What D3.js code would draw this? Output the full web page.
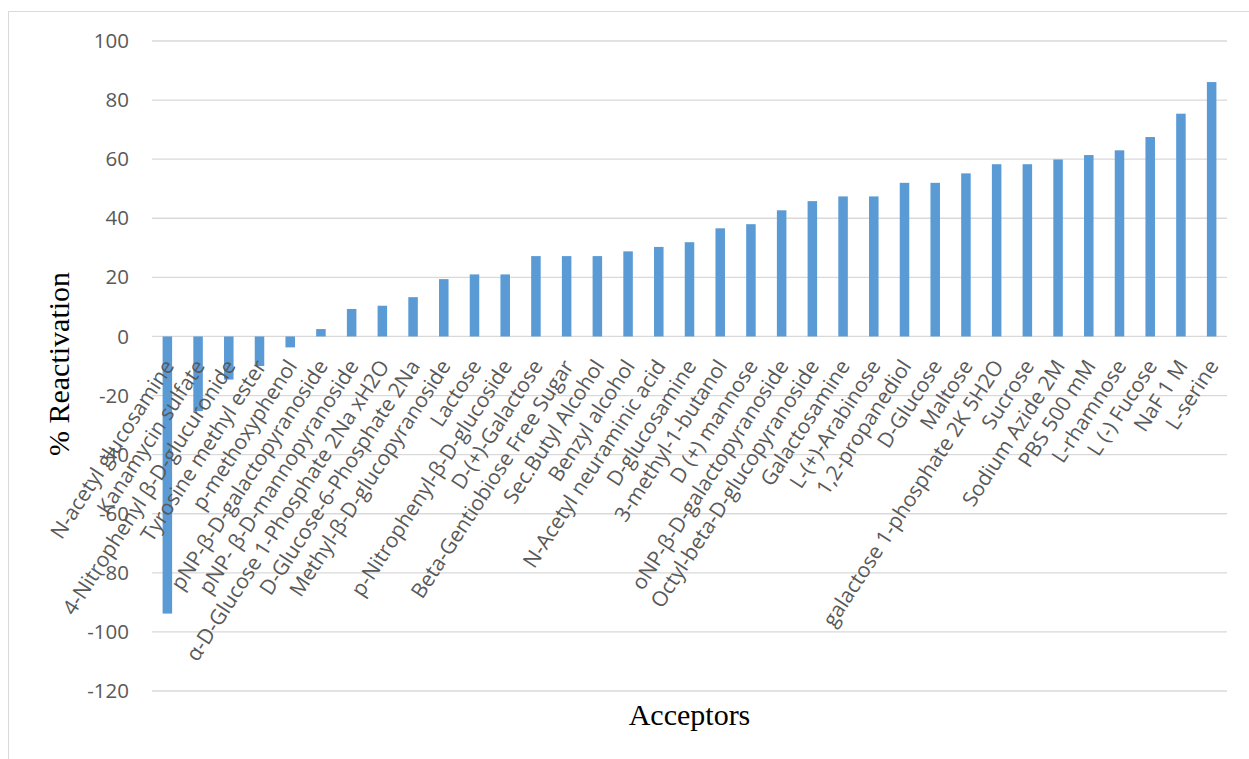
<!DOCTYPE html>
<html>
<head>
<meta charset="utf-8">
<script src="https://cdn.jsdelivr.net/npm/d3@7"></script>
<style>
  html, body { margin: 0; padding: 0; background: #ffffff; }
  svg { display: block; }
</style>
</head>
<body>
<div id="chart"></div>
<script>
// Acceptor compounds, in plotted order
const categories = [
  "N-acetyl glucosamine",
  "Kanamycin sulfate",
  "4-Nitrophenyl β-D-glucuronide",
  "Tyrosine methyl ester",
  "p-methoxyphenol",
  "pNP-β-D-galactopyranoside",
  "pNP- β-D-mannopyranoside",
  "α-D-Glucose 1-Phosphate 2Na xH2O",
  "D-Glucose-6-Phosphate 2Na",
  "Methyl-β-D-glucopyranoside",
  "Lactose",
  "p-Nitrophenyl-β-D-glucoside",
  "D-(+)-Galactose",
  "Beta-Gentiobiose Free Sugar",
  "Sec.Butyl Alcohol",
  "Benzyl alcohol",
  "N-Acetyl neuraminic acid",
  "D-glucosamine",
  "3-methyl-1-butanol",
  "D (+) mannose",
  "oNP-β-D-galactopyranoside",
  "Octyl-beta-D-glucopyranoside",
  "Galactosamine",
  "L-(+)-Arabinose",
  "1,2-propanediol",
  "D-Glucose",
  "Maltose",
  "galactose 1-phosphate 2K 5H2O",
  "Sucrose",
  "Sodium Azide 2M",
  "PBS 500 mM",
  "L-rhamnose",
  "L (-) Fucose",
  "NaF 1 M",
  "L-serine"
];

// % reactivation for each acceptor
const reactivation = [
  -93.8, -25.3, -14.6, -10.0, -3.7, 2.5, 9.3, 10.4, 13.3, 19.4,
  21.0, 21.0, 27.2, 27.2, 27.2, 28.8, 30.3, 31.9, 36.6, 38.0,
  42.7, 45.8, 47.4, 47.4, 52.0, 52.0, 55.2, 58.3, 58.3, 59.9,
  61.4, 63.0, 67.5, 75.4, 86.1
];

// Value-axis ticks
const yTicks = [100, 80, 60, 40, 20, 0, -20, -40, -60, -80, -100, -120];

const yTitle = "% Reactivation";
const xTitle = "Acceptors";

const W = 1249, H = 759;
const plot = { left: 152, right: 1227, top: 41, bottom: 691 };

const svg = d3.select("#chart").append("svg")
  .attr("width", W).attr("height", H);

// chart-area frame (only top and left edges fall inside the page)
svg.append("rect")
  .attr("x", 8.5).attr("y", 11.5)
  .attr("width", W + 20).attr("height", H + 20)
  .attr("fill", "none")
  .attr("stroke", "#d9d9d9")
  .attr("stroke-width", 1);

const x = d3.scaleBand()
  .domain(categories)
  .range([plot.left, plot.right])
  .paddingInner(0.69)
  .paddingOuter(0.345);

const y = d3.scaleLinear()
  .domain([-120, 100])
  .range([plot.bottom, plot.top]);

// horizontal gridlines
svg.append("g")
  .selectAll("line")
  .data(yTicks)
  .join("line")
  .attr("x1", plot.left).attr("x2", plot.right)
  .attr("y1", d => y(d)).attr("y2", d => y(d))
  .attr("stroke", "#d9d9d9")
  .attr("stroke-width", 1.3);

// value axis labels (plain hyphen for negatives)
const yAxis = svg.append("g")
  .attr("transform", `translate(${plot.left},0)`)
  .call(d3.axisLeft(y).tickValues(yTicks).tickSize(0).tickPadding(23)
    .tickFormat(d => String(d)));
yAxis.select(".domain").remove();
yAxis.selectAll("text")
  .attr("font-family", "'Open Sans', sans-serif")
  .attr("font-size", 20.5)
  .attr("fill", "#595959");

// bars
svg.append("g")
  .selectAll("rect")
  .data(categories.map((c, i) => ({ c, v: reactivation[i] })))
  .join("rect")
  .attr("x", d => x(d.c))
  .attr("width", x.bandwidth())
  .attr("y", d => y(Math.max(0, d.v)))
  .attr("height", d => Math.abs(y(d.v) - y(0)))
  .attr("fill", "#5b9bd5");

// category labels, rotated and hung from the zero line
const angle = -57;
svg.append("g")
  .selectAll("text")
  .data(categories)
  .join("text")
  .attr("transform", d => `translate(${x(d) + x.bandwidth() / 2 + 1.5},${y(0) + 25.5}) rotate(${angle})`)
  .attr("text-anchor", "end")
  .attr("dy", "0.35em")
  .attr("font-family", "'Open Sans', sans-serif")
  .attr("font-size", 21)
  .attr("fill", "#595959")
  .text(d => d);

// axis titles
svg.append("text")
  .attr("transform", `translate(69,364) rotate(-90)`)
  .attr("text-anchor", "middle")
  .attr("font-family", "'Liberation Serif', 'Times New Roman', serif")
  .attr("font-size", 30)
  .attr("fill", "#000000")
  .text(yTitle);

svg.append("text")
  .attr("x", 689.5).attr("y", 725)
  .attr("text-anchor", "middle")
  .attr("font-family", "'Liberation Serif', 'Times New Roman', serif")
  .attr("font-size", 30)
  .attr("fill", "#000000")
  .text(xTitle);
</script>
</body>
</html>
